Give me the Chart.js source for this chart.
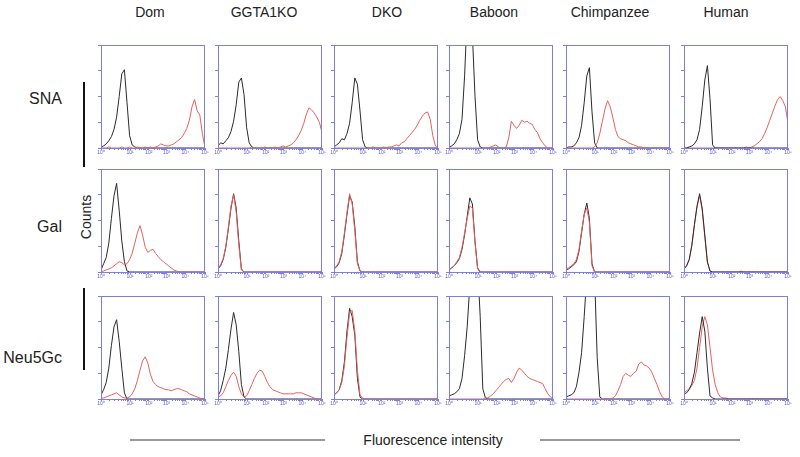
<!DOCTYPE html>
<html>
<head>
<meta charset="utf-8">
<script src="https://cdn.jsdelivr.net/npm/chart.js@4.4.1/dist/chart.umd.min.js"></script>
<style>
  body { margin: 0; background: #fff; }
  #wrap { position: relative; width: 800px; height: 457px; overflow: hidden; font-family: "Liberation Sans", Arial, sans-serif; color: #222; }
  .panel { position: absolute; }
  .title { position: absolute; top: 4px; font-size: 14px; transform: translateX(-50%); white-space: nowrap; }
  .rowlab { position: absolute; right: 738px; font-size: 16px; transform: translateY(-50%); }
  .vline { position: absolute; left: 83px; width: 2px; background: #111; }
  .hline { position: absolute; top: 439px; height: 2px; background: #999; }
</style>
</head>
<body>
<div id="wrap"></div>
<script>
const species = ["Dom", "GGTA1KO", "DKO", "Baboon", "Chimpanzee", "Human"];
const lectins = ["SNA", "Gal", "Neu5Gc"];
const bins = [0,1,2,3,4,5,6,7,8,9,10,11,12,13,14,15,16,17,18,19,20,21,22,23,24,25,26,27,28,29,30,31,32,33,34,35,36,37,38,39,40];
const tickPos = [0, 11.2, 18.4, 25.2, 32.4, 40];
const tickLabels = ["10⁰", "10¹", "10²", "10³", "10⁴", "10⁵"];

// SNA row
const snaDomBlack = [1,2,4,7,11,18,30,50,72,76, 44,12,3,1,0,0,0,0,0,0, 0,0,0,0,0,0,0,0,0,0, 0,0,0,0,0,0,0,0,0,0, 0];
const snaDomRed = [0,0,0,1,0,0,0,0,1,0, 0,1,0,0,1,0,0,1,0,1, 0,1,2,4,3,2,2,3,4,6, 8,10,14,19,27,40,47,36,32,14, 0];
const snaGgtaBlack = [2,5,4,7,10,16,26,42,64,68, 52,20,5,1,0,0,0,0,0,0, 0,0,0,0,0,0,0,0,0,0, 0,0,0,0,0,0,0,0,0,0, 0];
const snaGgtaRed = [0,0,0,0,0,0,0,0,0,0, 0,0,0,1,0,0,0,0,1,0, 0,0,1,0,1,2,1,2,3,5, 8,12,17,24,33,39,37,34,30,25, 15];
const snaDkoBlack = [1,3,5,9,8,14,24,44,68,62, 36,8,1,0,0,0,0,0,0,0, 0,0,0,0,0,0,0,0,0,0, 0,0,0,0,0,0,0,0,0,0, 0];
const snaDkoRed = [0,0,0,0,0,0,0,0,0,0, 0,0,0,0,0,1,0,0,0,1, 0,1,1,2,3,2,5,6,9,12, 15,18,22,27,31,34,35,28,12,2, 0];
const snaBaboonBlack = [1,2,4,8,14,28,70,130,150,110, 50,8,1,0,0,0,0,0,0,0, 0,0,0,0,0,0,0,0,0,0, 0,0,0,0,0,0,0,0,0,0, 0];
const snaBaboonRed = [0,0,0,0,0,0,0,0,0,0, 0,0,0,0,0,0,1,2,3,1, 0,0,1,10,26,22,19,22,27,25, 26,24,23,18,15,9,5,2,0,0, 0];
const snaChimpBlack = [0,1,1,2,5,10,22,44,70,78, 35,5,0,0,0,0,0,0,0,0, 0,0,0,0,0,0,0,0,0,0, 0,0,0,0,0,0,0,0,0,0, 0];
const snaChimpRed = [0,0,0,0,0,0,0,0,0,0, 0,1,5,14,26,38,46,40,30,18, 11,9,8,7,5,4,3,2,1,1, 0,0,0,0,0,0,0,0,0,0, 0];
const snaHumanBlack = [0,0,1,2,4,8,18,40,66,80, 48,3,0,0,0,0,0,0,0,0, 0,0,0,0,0,0,0,0,0,0, 0,0,0,0,0,0,0,0,0,0, 0];
const snaHumanRed = [0,0,0,0,0,0,0,0,0,0, 0,0,0,0,0,0,0,0,0,0, 0,0,0,0,1,0,1,2,4,6, 9,14,20,27,34,41,47,50,46,40, 24];

// Gal row
const galDomBlack = [2,8,14,28,52,74,86,60,30,10, 1,0,0,0,0,0,0,0,0,0, 0,0,0,0,0,0,0,0,0,0, 0,0,0,0,0,0,0,0,0,0, 0];
const galDomRed = [0,1,2,3,4,6,8,10,9,7, 8,12,18,28,38,45,36,24,19,21, 22,18,15,12,10,8,6,4,2,1, 0,0,0,0,0,0,0,0,0,0, 0];
const galGgtaBlack = [3,6,12,24,42,62,76,62,30,3, 0,0,0,0,0,0,0,0,0,0, 0,0,0,0,0,0,0,0,0,0, 0,0,0,0,0,0,0,0,0,0, 0];
const galGgtaRed = [4,7,13,25,44,64,75,58,26,2, 0,0,0,0,0,0,0,0,0,0, 0,0,0,0,0,0,0,0,0,0, 0,0,0,0,0,0,0,0,0,0, 0];
const galDkoBlack = [3,5,9,18,36,56,74,68,44,10, 1,0,0,0,0,0,0,0,0,0, 0,0,0,0,0,0,0,0,0,0, 0,0,0,0,0,0,0,0,0,0, 0];
const galDkoRed = [3,6,10,20,38,58,76,66,40,8, 1,0,0,0,0,0,0,0,0,0, 0,0,0,0,0,0,0,0,0,0, 0,0,0,0,0,0,0,0,0,0, 0];
const galBaboonBlack = [2,4,6,9,13,22,36,54,72,66, 30,4,0,0,0,0,0,0,0,0, 0,0,0,0,0,0,0,0,0,0, 0,0,0,0,0,0,0,0,0,0, 0];
const galBaboonRed = [2,4,6,10,14,24,38,52,64,62, 28,3,0,0,0,0,0,0,0,0, 0,0,0,0,0,0,0,0,0,0, 0,0,0,0,0,0,0,0,0,0, 0];
const galChimpBlack = [2,3,5,7,10,20,38,56,67,52, 8,0,0,0,0,0,0,0,0,0, 0,0,0,0,0,0,0,0,0,0, 0,0,0,0,0,0,0,0,0,0, 0];
const galChimpRed = [3,4,6,8,12,22,40,56,62,48, 6,0,0,0,0,0,0,0,0,0, 0,0,0,0,0,0,0,0,0,0, 0,0,0,0,0,0,0,0,0,0, 0];
const galHumanBlack = [3,6,12,26,46,64,76,62,36,10, 1,0,0,0,0,0,0,0,0,0, 0,0,0,0,0,0,0,0,0,0, 0,0,0,0,0,0,0,0,0,0, 0];
const galHumanRed = [3,6,12,25,45,63,74,60,34,9, 1,0,0,0,0,0,0,0,0,0, 0,0,1,0,0,0,0,0,0,0, 0,0,0,0,0,0,0,0,0,0, 0];

// Neu5Gc row
const neuDomBlack = [4,9,16,30,52,70,77,56,30,6, 0,0,0,0,0,0,0,0,0,0, 0,0,0,0,0,0,0,0,0,0, 0,0,0,0,0,0,0,0,0,0, 0];
const neuDomRed = [1,1,2,3,4,5,6,4,2,1, 1,2,5,10,18,28,37,41,35,24, 17,14,12,11,10,9,9,8,9,10, 10,9,8,7,5,4,3,2,1,0, 0];
const neuGgtaBlack = [3,8,18,30,48,68,84,72,46,14, 2,0,0,0,0,0,0,0,0,0, 0,0,0,0,0,0,0,0,0,0, 0,0,0,0,0,0,0,0,0,0, 0];
const neuGgtaRed = [2,3,6,12,18,23,26,22,12,5, 2,3,8,14,20,25,28,27,22,16, 12,9,8,7,6,5,5,5,5,5, 6,6,6,5,4,3,2,1,0,0, 0];
const neuDkoBlack = [4,6,9,18,36,66,88,80,62,20, 2,0,0,0,0,0,0,0,0,0, 0,0,0,0,0,0,0,0,0,0, 0,0,0,0,0,0,0,0,0,0, 0];
const neuDkoRed = [4,6,9,16,32,60,84,86,66,28, 4,1,0,0,0,0,0,0,0,0, 0,0,0,0,0,0,0,0,0,0, 0,0,0,0,0,0,0,0,0,0, 0];
const neuBaboonBlack = [3,4,5,7,10,20,42,70,110,140, 150,130,80,10,1,0,0,0,0,0, 0,0,0,0,0,0,0,0,0,0, 0,0,0,0,0,0,0,0,0,0, 0];
const neuBaboonRed = [0,0,0,0,0,0,0,0,0,0, 0,0,0,0,1,1,3,5,8,11, 14,17,19,20,16,20,26,30,28,25, 22,20,19,18,17,16,15,10,5,2, 0];
const neuChimpBlack = [2,3,4,6,12,26,45,80,120,150, 150,120,40,2,0,0,0,0,0,0, 0,0,0,0,0,0,0,0,0,0, 0,0,0,0,0,0,0,0,0,0, 0];
const neuChimpRed = [0,0,0,0,0,0,0,0,0,0, 0,0,0,0,0,0,0,0,1,3, 8,14,22,25,23,22,25,27,34,36, 33,32,30,26,20,14,7,2,0,0, 0];
const neuHumanBlack = [5,6,9,15,26,45,64,80,66,30, 3,1,0,0,0,0,0,0,0,0, 0,0,0,0,0,0,0,0,0,0, 0,0,0,0,0,0,0,0,0,0, 0];
const neuHumanRed = [6,8,10,13,18,30,50,70,80,72, 50,28,14,6,2,1,1,0,0,0, 0,0,0,0,0,0,0,0,0,0, 0,0,0,0,0,0,0,0,0,0, 0];

const rows = [
  [[snaDomBlack, snaDomRed], [snaGgtaBlack, snaGgtaRed], [snaDkoBlack, snaDkoRed], [snaBaboonBlack, snaBaboonRed], [snaChimpBlack, snaChimpRed], [snaHumanBlack, snaHumanRed]],
  [[galDomBlack, galDomRed], [galGgtaBlack, galGgtaRed], [galDkoBlack, galDkoRed], [galBaboonBlack, galBaboonRed], [galChimpBlack, galChimpRed], [galHumanBlack, galHumanRed]],
  [[neuDomBlack, neuDomRed], [neuGgtaBlack, neuGgtaRed], [neuDkoBlack, neuDkoRed], [neuBaboonBlack, neuBaboonRed], [neuChimpBlack, neuChimpRed], [neuHumanBlack, neuHumanRed]]
];

// layout
const colLeft = [101, 218, 334, 449, 566, 684];
const rowTop = [45, 169, 296];
const plotW = 104, plotH = 103;
const titleX = [150, 264, 387, 494, 610, 726];
const labelY = [99, 227, 358];
const axisBlue = "#7e7ee0";

const wrap = document.getElementById("wrap");

// minor ticks, log spaced inside each decade
const xTicks = [];
for (let d = 0; d < tickPos.length - 1; d++) {
  const a = tickPos[d], b = tickPos[d + 1];
  xTicks.push(a);
  for (let k = 2; k <= 9; k++) xTicks.push(a + (b - a) * Math.log10(k));
}
xTicks.push(tickPos[tickPos.length - 1]);

const frame = {
  id: "frame",
  afterDraw(chart) {
    const a = chart.chartArea, c = chart.ctx;
    c.save();
    c.strokeStyle = axisBlue;
    c.lineWidth = 1;
    c.strokeRect(a.left + 0.5, a.top + 0.5, a.right - a.left - 1, a.bottom - a.top);
    c.restore();
  }
};

const makePanel = (r, col) => {
  const box = document.createElement("div");
  box.className = "panel";
  box.style.left = (colLeft[col] - 4) + "px";
  box.style.top = (rowTop[r] - 2) + "px";
  const cv = document.createElement("canvas");
  cv.width = plotW + 4 + 5;
  cv.height = plotH + 2 + 9;
  box.append(cv);
  wrap.append(box);

  const [black, red] = rows[r][col];
  const blackOnTop = col == 5;
  const blackSet = { data: black, borderColor: "#2b2b2b", order: blackOnTop ? 0 : 1 };
  const redSet = { data: red, borderColor: "#e5615d", order: blackOnTop ? 1 : 0 };

  new Chart(cv.getContext("2d"), {
    type: "line",
    data: { labels: bins, datasets: [blackSet, redSet] },
    options: {
      responsive: false,
      animation: false,
      layout: { padding: { top: 2, right: 5, left: 0, bottom: 0 } },
      plugins: { legend: { display: false }, tooltip: { enabled: false } },
      elements: { point: { radius: 0 }, line: { borderWidth: 1, tension: 0 } },
      scales: {
        x: {
          type: "linear", min: 0, max: 40,
          afterBuildTicks: s => { s.ticks = xTicks.map(v => ({ value: v })); },
          afterFit: s => { s.height = 9; },
          ticks: {
            autoSkip: false, maxRotation: 0, padding: 0,
            font: { size: 5 }, color: "#5a5ad0",
            callback: v => { const i = tickPos.indexOf(v); return i < 0 ? "" : tickLabels[i]; }
          },
          grid: { drawOnChartArea: false, color: axisBlue, tickLength: 2 },
          border: { color: axisBlue }
        },
        y: {
          min: 0, max: 100,
          afterBuildTicks: s => { s.ticks = [0, 25, 50, 75, 100].map(v => ({ value: v })); },
          afterFit: s => { s.width = 4; },
          ticks: { display: false },
          grid: { drawOnChartArea: false, color: axisBlue, tickLength: 3 },
          border: { color: axisBlue }
        }
      }
    },
    plugins: [frame]
  });
};

species.forEach((name, i) => {
  const t = document.createElement("div");
  t.className = "title";
  t.style.left = titleX[i] + "px";
  t.textContent = name;
  wrap.append(t);
});

lectins.forEach((name, i) => {
  const t = document.createElement("div");
  t.className = "rowlab";
  t.style.top = labelY[i] + "px";
  t.textContent = name;
  wrap.append(t);
});

for (let r = 0; r < 3; r++) for (let c = 0; c < 6; c++) makePanel(r, c);

// decorations
const addDiv = (cls, css) => {
  const d = document.createElement("div");
  d.className = cls;
  Object.assign(d.style, css);
  wrap.append(d);
};
addDiv("vline", { top: "82px", height: "85px" });
addDiv("vline", { top: "288px", height: "82px" });
addDiv("hline", { left: "130px", width: "195px" });
addDiv("hline", { left: "540px", width: "200px" });

const counts = document.createElement("div");
counts.textContent = "Counts";
Object.assign(counts.style, { position: "absolute", left: "86px", top: "217px", fontSize: "14px", transform: "translate(-50%, -50%) rotate(-90deg)" });
wrap.append(counts);

const xlab = document.createElement("div");
xlab.textContent = "Fluorescence intensity";
Object.assign(xlab.style, { position: "absolute", left: "433px", top: "440px", fontSize: "14px", transform: "translate(-50%, -50%)", whiteSpace: "nowrap" });
wrap.append(xlab);
</script>
</body>
</html>
